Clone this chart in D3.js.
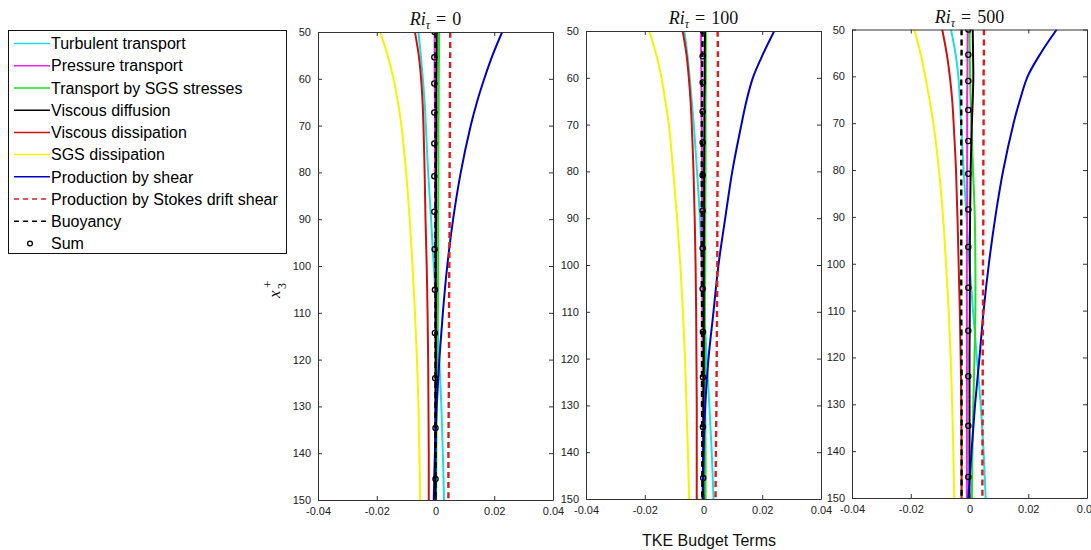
<!DOCTYPE html>
<html>
<head>
<meta charset="utf-8">
<script src="https://cdn.jsdelivr.net/npm/d3@7"></script>
<style>
  html, body { margin: 0; padding: 0; background: #fff; }
  svg { display: block; }
</style>
</head>
<body>
<svg id="chart" width="1091" height="550"></svg>
<script>
// Depth levels (x3+) at which each budget profile is sampled
const depth = [50, 55, 60, 65, 70, 80, 90, 100, 110, 120, 130, 140, 150];
// Depth levels of the "Sum" markers
const sumDepth = [50, 55.4, 61.0, 67.2, 73.8, 80.8, 88.4, 96.4, 105.1, 114.3, 124.0, 134.6, 145.5];

// Panel titles (Ri_tau values)
const riValues = ["0", "100", "500"];

// Each budget term: one profile per Ri_tau panel
const turbulentTransport = [
  [-0.0058, -0.0050, -0.0043, -0.0037, -0.0033, -0.0025, -0.0015, -0.0006, 0.0004, 0.0013, 0.0020, 0.0025, 0.0029],
  [-0.0065, -0.0055, -0.0047, -0.0040, -0.0033, -0.0022, -0.0012, -0.0005, 0.0003, 0.0011, 0.0020, 0.0028, 0.0034],
  [-0.0063, -0.0048, -0.0038, -0.0033, -0.0029, -0.0020, -0.0010, 0.0000, 0.0012, 0.0025, 0.0038, 0.0048, 0.0055]
];
const pressureTransport = [
  [-0.0003, -0.0003, -0.0003, -0.0002, -0.0002, -0.0002, -0.0001, -0.0001, -0.0001, 0.0000, 0.0000, 0.0000, 0.0000],
  [-0.0008, -0.0008, -0.0007, -0.0007, -0.0006, -0.0005, -0.0005, -0.0004, -0.0004, -0.0003, -0.0003, -0.0002, -0.0002],
  [-0.0006, -0.0007, -0.0007, -0.0008, -0.0008, -0.0008, -0.0008, -0.0009, -0.0009, -0.0009, -0.0009, -0.0009, -0.0009]
];
const sgsTransport = [
  [0.0012, 0.0012, 0.0011, 0.0011, 0.0010, 0.0010, 0.0009, 0.0009, 0.0008, 0.0006, 0.0004, 0.0003, 0.0002],
  [0.0008, 0.0008, 0.0008, 0.0007, 0.0007, 0.0007, 0.0006, 0.0006, 0.0005, 0.0005, 0.0006, 0.0007, 0.0007],
  [0.0000, 0.0001, 0.0002, 0.0004, 0.0006, 0.0012, 0.0018, 0.0020, 0.0020, 0.0017, 0.0013, 0.0010, 0.0008]
];
const viscousDiffusion = [
  [0.0004, 0.0004, 0.0003, 0.0003, 0.0003, 0.0002, 0.0002, 0.0001, 0.0001, 0.0001, 0.0000, 0.0000, 0.0000],
  [0.0005, 0.0004, 0.0004, 0.0003, 0.0003, 0.0002, 0.0002, 0.0001, 0.0001, 0.0001, 0.0000, 0.0000, 0.0000],
  [0.0011, 0.0012, 0.0013, 0.0011, 0.0008, 0.0004, 0.0002, 0.0001, 0.0001, 0.0000, 0.0000, 0.0000, 0.0000]
];
const viscousDissipation = [
  [-0.0070, -0.0057, -0.0049, -0.0044, -0.0041, -0.0037, -0.0034, -0.0030, -0.0027, -0.0025, -0.0024, -0.0023, -0.0023],
  [-0.0071, -0.0058, -0.0050, -0.0044, -0.0040, -0.0034, -0.0030, -0.0027, -0.0025, -0.0024, -0.0023, -0.0023, -0.0023],
  [-0.0093, -0.0078, -0.0067, -0.0059, -0.0054, -0.0046, -0.0041, -0.0037, -0.0033, -0.0030, -0.0028, -0.0027, -0.0027]
];
const sgsDissipation = [
  [-0.0189, -0.0163, -0.0143, -0.0128, -0.0116, -0.0100, -0.0088, -0.0078, -0.0070, -0.0063, -0.0058, -0.0055, -0.0052],
  [-0.0185, -0.0161, -0.0143, -0.0130, -0.0118, -0.0103, -0.0090, -0.0079, -0.0070, -0.0063, -0.0058, -0.0053, -0.0049],
  [-0.0188, -0.0167, -0.0151, -0.0136, -0.0123, -0.0104, -0.0090, -0.0080, -0.0071, -0.0064, -0.0059, -0.0055, -0.0052]
];
const shearProduction = [
  [0.0227, 0.0194, 0.0166, 0.0141, 0.0120, 0.0086, 0.0060, 0.0040, 0.0025, 0.0013, 0.0004, -0.0002, -0.0006],
  [0.0241, 0.0202, 0.0168, 0.0146, 0.0129, 0.0098, 0.0074, 0.0051, 0.0034, 0.0017, 0.0006, 0.0000, -0.0003],
  [0.0297, 0.0243, 0.0198, 0.0172, 0.0150, 0.0115, 0.0088, 0.0066, 0.0048, 0.0034, 0.0019, 0.0007, -0.0004]
];
const stokesProduction = [
  [0.0050, 0.0050, 0.0049, 0.0049, 0.0049, 0.0048, 0.0048, 0.0047, 0.0046, 0.0046, 0.0045, 0.0044, 0.0044],
  [0.0048, 0.0049, 0.0049, 0.0049, 0.0049, 0.0048, 0.0047, 0.0047, 0.0046, 0.0045, 0.0044, 0.0042, 0.0041],
  [0.0049, 0.0049, 0.0048, 0.0048, 0.0048, 0.0047, 0.0047, 0.0046, 0.0046, 0.0045, 0.0045, 0.0044, 0.0044]
];
const buoyancy = [
  [0, 0, 0, 0, 0, 0, 0, 0, 0, 0, 0, 0, 0],
  [-0.0003, -0.0004, -0.0005, -0.0005, -0.0006, -0.0006, -0.0006, -0.0006, -0.0005, -0.0005, -0.0005, -0.0004, -0.0004],
  [-0.0027, -0.0027, -0.0028, -0.0028, -0.0028, -0.0028, -0.0028, -0.0028, -0.0028, -0.0027, -0.0027, -0.0027, -0.0027]
];
const budgetSum = [
  [-0.0003, -0.0004, -0.0004, -0.0004, -0.0004, -0.0004, -0.0004, -0.0003, -0.0002, -0.0002, -0.0001, 0.0000, 0.0000],
  [-0.0002, -0.0003, -0.0003, -0.0003, -0.0003, -0.0003, -0.0003, -0.0003, -0.0003, -0.0002, -0.0002, -0.0002, -0.0001],
  [-0.0004, -0.0004, -0.0004, -0.0004, -0.0004, -0.0004, -0.0004, -0.0004, -0.0004, -0.0004, -0.0004, -0.0004, -0.0004]
];

// Axis ticks
const xTicks = [-0.04, -0.02, 0, 0.02, 0.04];
const xTickLabels = ["-0.04", "-0.02", "0", "0.02", "0.04"];
const yTicks = [50, 60, 70, 80, 90, 100, 110, 120, 130, 140, 150];

// Legend labels, in drawing order
const legendLabels = [
  "Turbulent transport", "Pressure transport", "Transport by SGS stresses",
  "Viscous diffusion", "Viscous dissipation", "SGS dissipation",
  "Production by shear", "Production by Stokes drift shear", "Buoyancy", "Sum"
];

// Styling of each term (same order as the legend)
const terms = [
  { data: turbulentTransport, color: "#20dede", dash: null, width: 2 },
  { data: pressureTransport,  color: "#ee22ee", dash: null, width: 2 },
  { data: sgsTransport,       color: "#22dd22", dash: null, width: 2 },
  { data: viscousDiffusion,   color: "#000000", dash: null, width: 2 },
  { data: viscousDissipation, color: "#cc1111", dash: null, width: 2 },
  { data: sgsDissipation,     color: "#f4f400", dash: null, width: 2 },
  { data: shearProduction,    color: "#0000c8", dash: null, width: 2 },
  { data: stokesProduction,   color: "#dd1c1c", dash: "6,4", width: 2.4 },
  { data: buoyancy,           color: "#000000", dash: "6,4", width: 2.4 }
];

const svg = d3.select("#chart");
const FONT = "'Liberation Sans', Arial, sans-serif";
const SERIF = "'Liberation Serif', 'DejaVu Serif', serif";

// Panel frames
const panels = [
  { left: 318, top: 32,   bottom: 500 },
  { left: 586, top: 31,   bottom: 499 },
  { left: 852, top: 29.5, bottom: 498 }
];
const panelWidth = 235;

panels.forEach((p, i) => {
  const x = d3.scaleLinear().domain([-0.04, 0.04]).range([p.left, p.left + panelWidth]);
  const y = d3.scaleLinear().domain([50, 150]).range([p.top, p.bottom]);
  const g = svg.append("g");

  const clipId = "clip" + i;
  svg.append("clipPath").attr("id", clipId)
    .append("rect").attr("x", p.left).attr("y", p.top)
    .attr("width", panelWidth).attr("height", p.bottom - p.top);

  const plot = g.append("g").attr("clip-path", `url(#${clipId})`);
  const line = d3.line()
    .x(d => x(d[0]))
    .y(d => y(d[1]))
    .curve(d3.curveCatmullRom.alpha(0.5));

  terms.forEach(t => {
    const pts = t.data[i].map((v, k) => [v, depth[k]]);
    plot.append("path")
      .attr("d", line(pts))
      .attr("fill", "none")
      .attr("stroke", t.color)
      .attr("stroke-width", t.width)
      .attr("stroke-dasharray", t.dash);
  });

  plot.selectAll("circle.sum")
    .data(budgetSum[i].map((v, k) => [v, sumDepth[k]]))
    .join("circle")
    .attr("class", "sum")
    .attr("cx", d => x(d[0]))
    .attr("cy", d => y(d[1]))
    .attr("r", 2.6)
    .attr("fill", "none")
    .attr("stroke", "#000")
    .attr("stroke-width", 1.3);

  // Axes: labelled bottom/left, tick-only top/right, ticks pointing inward
  const axisStyle = sel => {
    sel.select(".domain").attr("stroke", "#333").attr("stroke-width", 1);
    sel.selectAll(".tick line").attr("stroke", "#333");
    sel.selectAll(".tick text").attr("fill", "#222").style("font-family", FONT).style("font-size", "11px");
  };

  g.append("g").attr("transform", `translate(0,${p.bottom})`)
    .call(d3.axisBottom(x).tickValues(xTicks).tickFormat((d, k) => xTickLabels[k])
      .tickSizeInner(-4).tickSizeOuter(0).tickPadding(7))
    .call(axisStyle);
  g.append("g").attr("transform", `translate(0,${p.top})`)
    .call(d3.axisTop(x).tickValues(xTicks).tickFormat("").tickSizeInner(-4).tickSizeOuter(0))
    .call(axisStyle);
  g.append("g").attr("transform", `translate(${p.left},0)`)
    .call(d3.axisLeft(y).tickValues(yTicks).tickSizeInner(-4).tickSizeOuter(0).tickPadding(7))
    .call(axisStyle);
  g.append("g").attr("transform", `translate(${p.left + panelWidth},0)`)
    .call(d3.axisRight(y).tickValues(yTicks).tickFormat("").tickSizeInner(-4).tickSizeOuter(0))
    .call(axisStyle);

  // Title: Ri_tau = value
  const title = g.append("text")
    .attr("x", p.left + panelWidth / 2)
    .attr("y", p.top - 7)
    .attr("text-anchor", "middle")
    .style("font-family", SERIF)
    .style("font-size", "18px")
    .attr("fill", "#111");
  title.append("tspan").style("font-style", "italic").text("Ri");
  title.append("tspan").style("font-style", "italic").style("font-size", "12px").attr("dy", 4).text("\u03c4");
  title.append("tspan").attr("dy", -4).attr("dx", 6).text("=");
  title.append("tspan").attr("dx", 6).text(riValues[i]);
});

// y-axis label x3+
const ylab = svg.append("g").attr("transform", "translate(280,298) rotate(-90)")
  .style("font-family", SERIF).attr("fill", "#111");
ylab.append("text").attr("x", 0).attr("y", 0).style("font-style", "italic").style("font-size", "17px").text("x");
ylab.append("text").attr("x", 9).attr("y", 6).style("font-size", "12px").text("3");
ylab.append("text").attr("x", 10).attr("y", -8).style("font-size", "13px").text("+");

// x-axis label
svg.append("text")
  .attr("x", 709).attr("y", 546)
  .attr("text-anchor", "middle")
  .style("font-family", FONT).style("font-size", "16px").attr("fill", "#111")
  .text("TKE Budget Terms");

// Legend
const legend = svg.append("g");
legend.append("rect")
  .attr("x", 8.5).attr("y", 30.5).attr("width", 278).attr("height", 223)
  .attr("fill", "#fff").attr("stroke", "#111").attr("stroke-width", 1);

const legendY = d3.scalePoint().domain(legendLabels).range([43.5, 243.5]);
legendLabels.forEach((label, k) => {
  const cy = legendY(label);
  if (k < terms.length) {
    legend.append("line")
      .attr("x1", 14).attr("x2", 50).attr("y1", cy).attr("y2", cy)
      .attr("stroke", terms[k].color)
      .attr("stroke-width", 1.5)
      .attr("stroke-dasharray", terms[k].dash ? "5,4" : null);
  } else {
    legend.append("circle")
      .attr("cx", 30).attr("cy", cy).attr("r", 2.4)
      .attr("fill", "none").attr("stroke", "#000").attr("stroke-width", 1.3);
  }
  legend.append("text")
    .attr("x", 51).attr("y", cy).attr("dy", "0.36em")
    .style("font-family", FONT).style("font-size", "16px").attr("fill", "#000")
    .text(label);
});
</script>
</body>
</html>
